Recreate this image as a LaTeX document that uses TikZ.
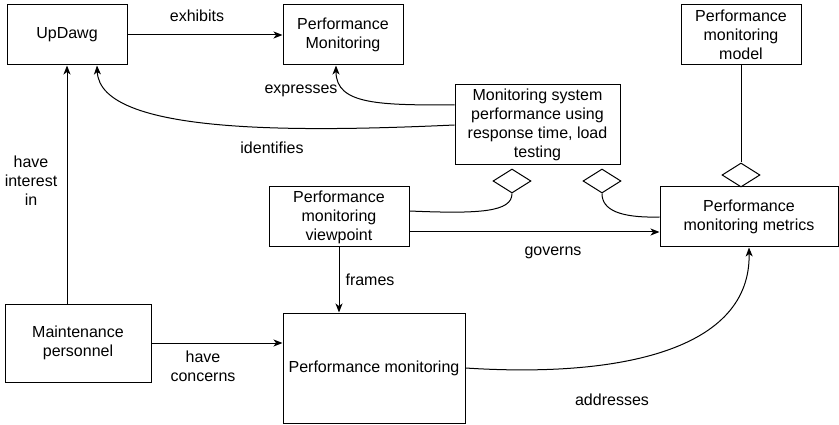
\documentclass[tikz,border=0pt]{standalone}
\usepackage{fontspec}
\setmainfont{Liberation Sans}
\usetikzlibrary{shapes,arrows.meta,positioning,calc}

\begin{document}
\begin{tikzpicture}[x=1pt, y=-1pt, line width=1pt,
    font=\fontsize{16}{19}\selectfont,
    box/.style={draw, align=center, inner sep=2pt, minimum width=120pt, minimum height=60pt},
    agg/.style={draw, diamond, inner sep=0pt, minimum width=38pt, minimum height=24pt},
    arr/.style={-{Stealth[length=9pt,width=7pt,inset=2.5pt]}}]
    \useasboundingbox (0,0) rectangle (839,425);
    % Boxes
    \node[box] (updawg) at (67,35) {UpDawg};
    \node[box] (pmon) at (343,35) {Performance\\Monitoring};
    \node[box] (pmodel) at (741,35) {Performance\\monitoring\\model};
    \node[box, minimum width=165pt, minimum height=80pt] (msys) at (537.5,125) {Monitoring system\\performance using\\response time, load\\testing};
    \node[box, minimum width=140pt] (viewpt) at (339,217) {Performance\\monitoring\\viewpoint};
    \node[box, minimum width=178pt] (metrics) at (749,217) {Performance\\monitoring metrics};
    \node[box, minimum width=146pt, minimum height=78pt] (maint) at (78,343) {Maintenance\\personnel};
    \node[box, minimum width=182pt, minimum height=110pt] (pmbig) at (374,368) {Performance monitoring};
    % Diamonds
    \node[agg] (d1) at (512,181) {};
    \node[agg] (d2) at (602,181) {};
    \node[agg] (d3) at (741,175) {};
    % Arrows
    \draw[arr] (updawg) -- (pmon); \node (lexh) at (197,16) {exhibits};
    \draw[arr] ([yshift=20pt]msys.west) .. controls (380,105) and (336,105) .. ([xshift=-7pt]pmon.south); \node (lexp) at (301,91) {expresses};
    \draw[arr] (msys.west) .. controls (300,132) and (100,135) .. ([xshift=30pt]updawg.south); \node (lid) at (272,148) {identifies};
    \draw[arr] (updawg.south |- maint.north) -- (updawg.south); \node[align=center] (lint) at (31,181) {have\\interest\\in};
    \draw[arr] ([yshift=-15pt]viewpt.east) -- ([yshift=-15pt]metrics.west); \node (lgov) at (553,253) {governs};
    \draw[arr] (viewpt) -- (viewpt |- pmbig.north); \node (lfr) at (370,280) {frames};
    \draw[arr] (maint.east) -- (maint.east -| pmbig.west); \node[align=center] (lconc) at (203,366) {have\\concerns};
    \draw[arr] (pmbig.east) .. controls (620,378) and (751,350) .. (metrics.south); \node (laddr) at (612,400) {addresses};
    % Aggregations
    \draw ([yshift=6pt]viewpt.east) .. controls (480,214) and (512,212) .. (d1.south);
    \draw (metrics.west) .. controls (620,218) and (602,210) .. (d2.south);
    \draw (pmodel) -- (d3);
\end{tikzpicture}
\end{document}
